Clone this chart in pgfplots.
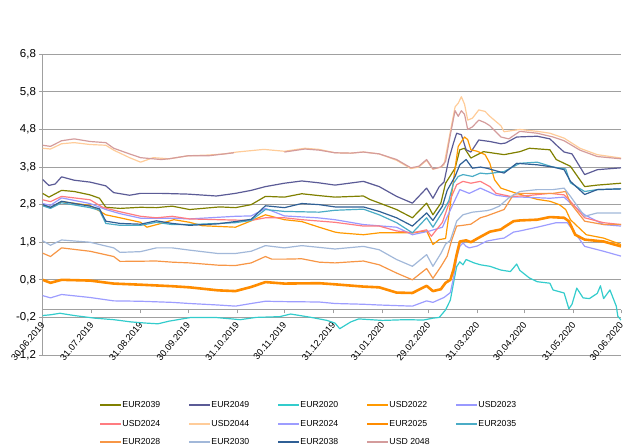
\documentclass[border=0pt]{standalone}
\usepackage{pgfplots}
\pgfplotsset{compat=1.18}
\usepackage{fontspec}
\setmainfont{Liberation Sans}
\definecolor{cEa}{HTML}{808000}
\definecolor{cEb}{HTML}{5B5B96}
\definecolor{cEc}{HTML}{33CCCC}
\definecolor{cUa}{HTML}{FF9900}
\definecolor{cUb}{HTML}{9999FF}
\definecolor{cUc}{HTML}{FF7C80}
\definecolor{cUd}{HTML}{FFCC99}
\definecolor{cEd}{HTML}{9D9DFF}
\definecolor{cEe}{HTML}{FF8C00}
\definecolor{cEf}{HTML}{4BACC6}
\definecolor{cEg}{HTML}{F79646}
\definecolor{cEh}{HTML}{A2B8D9}
\definecolor{cEi}{HTML}{2F5F95}
\definecolor{cUe}{HTML}{D49C9C}
\definecolor{gridc}{HTML}{A0A0A0}
\begin{document}
\begin{tikzpicture}
\useasboundingbox (0,0) rectangle (623pt,446pt);
\begin{axis}[
  at={(42.6pt,91pt)}, anchor=south west,
  scale only axis, width=578.4pt, height=300.7pt,
  xmin=0, xmax=366, ymin=-1.2, ymax=6.8,
  enlargelimits=false,
  axis x line*=middle, axis y line*=left,
  hide obscured x ticks=false,
  axis line style={gridc, line width=0.9pt},
  ytick={-1.2,-0.2,0.8,1.8,2.8,3.8,4.8,5.8,6.8},
  yticklabels={{-1,2},{-0,2},{0,8},{1,8},{2,8},{3,8},{4,8},{5,8},{6,8}},
  ymajorgrids, grid style={gridc, line width=0.9pt},
  xtick={0,31,62,92,123,153,184,215,244,275,305,336,366},
  xticklabels={30.06.2019,31.07.2019,31.08.2019,30.09.2019,31.10.2019,30.11.2019,31.12.2019,31.01.2020,29.02.2020,31.03.2020,30.04.2020,31.05.2020,30.06.2020},
  tick align=outside, major tick length=3.5pt,
  tick style={gridc, line width=0.8pt},
  yticklabel style={font=\fontsize{11.5}{12}\selectfont, anchor=east, inner sep=0pt, xshift=-3pt},
  xticklabel style={font=\fontsize{9.3}{10}\selectfont, yshift=-9pt, xshift=1pt, rotate=50, anchor=east, inner sep=1pt},
  unbounded coords=jump,
  every axis plot/.append style={line width=1.2pt, line join=round},
  legend columns=5,
  legend image code/.code={\draw[line width=2pt,#1] (0pt,0pt) -- (21pt,0pt);},
  legend style={draw=none, fill=none, inner sep=0pt, at={(0.098,-0.153)}, anchor=north west,
    font=\fontsize{8.7}{10}\selectfont, row sep=10.5pt,
    nodes={inner sep=0pt, text height=6.3pt, text depth=1.8pt}},
]
% EUR2039
\addplot[cEa] coordinates {(0,3.1)(4,3.0)(12,3.18)(20,3.15)(30,3.06)(36,2.97)(40,2.73)(49,2.7)(62,2.73)(72,2.72)(82,2.76)(93,2.67)(112,2.74)(122,2.72)(132,2.8)(141,3.02)(153,3.0)(164,3.09)(175,3.04)(185,3.0)(203,3.03)(207,2.94)(224,2.67)(234,2.45)(243,2.84)(247,2.53)(252,2.84)(255,3.37)(261,3.77)(264,4.26)(267,4.3)(271,4.04)(277,4.17)(279,4.21)(292,4.13)(302,4.21)(308,4.3)(321,4.26)(325,4.0)(334,3.82)(343,3.28)(351,3.32)(366,3.37)};
\addlegendentry{\makebox[66pt][l]{EUR2039}}
% EUR2049
\addplot[cEb] coordinates {(0,3.47)(4,3.31)(8,3.35)(12,3.54)(20,3.45)(30,3.4)(40,3.3)(45,3.12)(55,3.05)(62,3.1)(75,3.1)(92,3.08)(110,3.03)(122,3.1)(132,3.18)(141,3.28)(153,3.37)(164,3.43)(175,3.38)(185,3.32)(203,3.42)(213,3.28)(224,3.02)(234,2.84)(243,3.24)(247,2.97)(251,3.28)(254,3.4)(257,4.0)(260,4.44)(262,4.7)(265,4.66)(268,4.26)(271,4.2)(276,4.52)(283,4.48)(290,4.42)(293,4.44)(300,4.6)(313,4.62)(321,4.55)(326,4.35)(330,4.2)(335,4.15)(343,3.6)(351,3.73)(366,3.78)};
\addlegendentry{\makebox[66pt][l]{EUR2049}}
% EUR2020
\addplot[cEc] coordinates {(0,-0.15)(5,-0.13)(11,-0.09)(20,-0.15)(33,-0.22)(45,-0.26)(56,-0.32)(65,-0.35)(73,-0.37)(80,-0.3)(94,-0.2)(109,-0.2)(125,-0.26)(135,-0.2)(150,-0.18)(157,-0.11)(170,-0.2)(180,-0.28)(185,-0.35)(188,-0.5)(195,-0.32)(200,-0.24)(215,-0.28)(230,-0.26)(241,-0.27)(247,-0.22)(251,-0.2)(255,0.0)(258,0.26)(260,0.71)(262,1.15)(264,1.28)(266,1.2)(268,1.34)(273,1.25)(277,1.2)(283,1.16)(290,1.06)(296,1.02)(300,1.22)(302,1.05)(308,0.85)(313,0.75)(321,0.71)(323,0.53)(330,0.45)(333,0.03)(335,0.15)(338,0.58)(342,0.32)(346,0.3)(351,0.44)(353,0.64)(355,0.3)(359,0.53)(363,0.1)(364,-0.17)(366,-0.27)};
\addlegendentry{\makebox[66pt][l]{EUR2020}}
% USD2022
\addplot[cUa] coordinates {(0,2.8)(5,2.72)(12,2.88)(30,2.78)(40,2.53)(49,2.45)(62,2.33)(66,2.2)(75,2.3)(83,2.4)(93,2.33)(101,2.24)(122,2.2)(132,2.37)(141,2.53)(153,2.4)(164,2.35)(175,2.2)(185,2.07)(188,2.05)(203,2.0)(213,2.05)(224,2.05)(234,2.05)(243,2.1)(247,1.74)(251,1.87)(255,1.9)(258,2.8)(261,3.77)(263,4.35)(267,4.6)(269,4.53)(271,4.26)(275,4.22)(280,4.13)(283,3.9)(286,3.46)(290,3.24)(300,3.1)(313,2.94)(321,2.89)(327,2.8)(331,2.67)(334,2.4)(344,2.0)(355,1.91)(366,1.74)};
\addlegendentry{\makebox[66pt][l]{USD2022}}
% USD2023
\addplot[cUb] coordinates {(0,2.83)(5,2.78)(12,2.98)(30,2.83)(40,2.67)(49,2.56)(62,2.44)(82,2.44)(93,2.42)(122,2.49)(132,2.5)(141,2.7)(153,2.5)(174,2.45)(185,2.4)(203,2.27)(224,2.2)(234,2.0)(245,2.1)(253,2.2)(260,2.84)(264,3.2)(270,3.1)(277,3.24)(287,3.05)(296,3.0)(304,3.0)(321,2.97)(330,3.0)(334,2.84)(343,2.53)(355,2.27)(366,2.23)};
\addlegendentry{\makebox[66pt][l]{USD2023}}
% USD2024
\addplot[cUc] coordinates {(0,2.93)(5,2.88)(12,3.02)(30,2.93)(38,2.73)(48,2.62)(62,2.49)(72,2.45)(82,2.49)(93,2.42)(111,2.4)(132,2.38)(141,2.45)(153,2.45)(164,2.4)(185,2.33)(203,2.23)(213,2.23)(224,2.1)(234,2.05)(243,2.13)(246,1.96)(253,2.33)(258,2.94)(262,3.33)(266,3.42)(271,3.37)(277,3.42)(283,3.28)(287,3.1)(296,3.02)(304,3.03)(321,3.1)(330,3.06)(334,2.89)(343,2.45)(355,2.32)(366,2.27)};
\addlegendentry{\makebox[66pt][l]{USD2024}}
% USD2044
\addplot[cUd] coordinates {(0,4.3)(5,4.28)(12,4.42)(20,4.45)(30,4.4)(40,4.38)(45,4.25)(55,4.05)(62,3.93)(70,4.05)(80,4.02)(92,4.1)(105,4.12)(115,4.15)(123,4.2)(140,4.27)(153,4.22)(166,4.3)(175,4.27)(185,4.18)(195,4.17)(203,4.2)(213,4.15)(224,3.98)(233,3.76)(238,3.8)(243,3.98)(247,3.74)(252,3.8)(254,3.86)(256,4.3)(261,5.4)(263,5.5)(265,5.67)(267,5.47)(269,5.05)(272,5.1)(276,5.32)(280,5.28)(283,5.15)(290,4.9)(292,4.74)(302,4.8)(313,4.75)(321,4.7)(330,4.57)(340,4.3)(351,4.13)(366,4.04)};
\addlegendentry{\makebox[66pt][l]{USD2044}}
% EUR2024
\addplot[cEd] coordinates {(0,0.38)(5,0.32)(12,0.41)(30,0.33)(45,0.24)(62,0.23)(82,0.2)(93,0.17)(111,0.13)(122,0.1)(132,0.17)(141,0.23)(153,0.22)(175,0.21)(185,0.17)(203,0.15)(213,0.13)(234,0.1)(243,0.24)(247,0.2)(254,0.33)(258,0.46)(260,0.85)(262,1.38)(264,1.69)(266,1.78)(268,1.69)(270,1.65)(275,1.7)(281,1.83)(290,1.9)(292,1.91)(298,2.07)(302,2.1)(313,2.2)(325,2.32)(332,2.32)(336,2.1)(343,1.69)(355,1.56)(366,1.43)};
\addlegendentry{\makebox[66pt][l]{EUR2024}}
% EUR2025
\addplot[cEe, line width=2.6pt] coordinates {(0,0.8)(5,0.72)(12,0.8)(30,0.78)(45,0.7)(62,0.67)(82,0.63)(93,0.6)(111,0.52)(122,0.5)(132,0.61)(141,0.74)(153,0.7)(175,0.71)(185,0.68)(203,0.62)(213,0.6)(224,0.46)(234,0.45)(243,0.64)(247,0.5)(252,0.55)(255,0.72)(258,0.8)(260,1.07)(262,1.47)(264,1.82)(268,1.85)(271,1.8)(276,1.92)(283,2.08)(290,2.14)(292,2.2)(298,2.36)(302,2.38)(313,2.4)(321,2.47)(330,2.45)(333,2.36)(337,2.0)(343,1.87)(355,1.82)(366,1.69)};
\addlegendentry{\makebox[66pt][l]{EUR2025}}
% EUR2035
\addplot[cEf] coordinates {(0,2.77)(5,2.7)(12,2.85)(30,2.72)(36,2.65)(40,2.3)(49,2.25)(62,2.25)(72,2.33)(82,2.27)(93,2.27)(111,2.3)(122,2.32)(132,2.38)(141,2.67)(153,2.62)(175,2.6)(185,2.65)(203,2.68)(213,2.53)(224,2.32)(234,2.05)(243,2.45)(247,2.2)(253,2.6)(257,2.9)(260,3.37)(263,3.55)(266,3.6)(272,3.55)(277,3.64)(281,3.62)(292,3.68)(302,3.9)(313,3.93)(323,3.8)(331,3.75)(334,3.38)(343,3.15)(351,3.2)(366,3.22)};
\addlegendentry{\makebox[66pt][l]{EUR2035}}
% EUR2028
\addplot[cEg] coordinates {(0,1.51)(5,1.42)(12,1.65)(30,1.56)(45,1.42)(49,1.29)(72,1.3)(82,1.27)(93,1.25)(111,1.19)(122,1.18)(132,1.25)(141,1.42)(145,1.35)(153,1.35)(164,1.36)(175,1.27)(185,1.25)(203,1.3)(213,1.2)(224,0.98)(234,0.8)(243,1.1)(247,0.84)(252,1.15)(256,1.43)(259,1.87)(262,2.23)(266,2.25)(271,2.28)(277,2.45)(281,2.5)(292,2.67)(298,3.07)(302,3.1)(313,3.1)(323,3.1)(331,3.15)(334,2.84)(343,2.36)(355,2.27)(366,2.27)};
\addlegendentry{\makebox[66pt][l]{EUR2028}}
% EUR2030
\addplot[cEh] coordinates {(0,1.84)(5,1.72)(12,1.86)(30,1.8)(45,1.65)(49,1.53)(62,1.55)(72,1.65)(82,1.65)(93,1.59)(111,1.5)(122,1.5)(132,1.56)(141,1.71)(153,1.65)(164,1.71)(185,1.62)(203,1.69)(213,1.6)(224,1.34)(234,1.16)(243,1.47)(247,1.16)(252,1.5)(255,1.75)(258,1.85)(262,2.36)(266,2.53)(272,2.6)(281,2.64)(284,2.67)(289,2.76)(295,2.98)(302,3.15)(313,3.2)(323,3.2)(330,3.24)(334,3.02)(343,2.49)(351,2.58)(366,2.58)};
\addlegendentry{\makebox[66pt][l]{EUR2030}}
% EUR2038
\addplot[cEi] coordinates {(0,2.8)(5,2.73)(12,2.89)(30,2.76)(36,2.69)(40,2.36)(49,2.3)(62,2.28)(72,2.37)(82,2.3)(93,2.25)(111,2.29)(122,2.35)(132,2.41)(141,2.77)(153,2.72)(164,2.83)(175,2.8)(185,2.74)(203,2.74)(213,2.62)(224,2.45)(234,2.23)(243,2.58)(247,2.38)(253,2.76)(256,3.18)(261,3.55)(264,3.86)(268,4.0)(272,3.77)(277,3.8)(281,3.77)(292,3.64)(300,3.9)(313,3.86)(323,3.8)(330,3.73)(334,3.42)(343,3.07)(351,3.2)(366,3.22)};
\addlegendentry{\makebox[66pt][l]{EUR2038}}
% USD 2048
\addplot[cUe] coordinates {(0,4.38)(5,4.35)(12,4.5)(20,4.55)(30,4.48)(40,4.45)(45,4.3)(55,4.15)(62,4.05)(75,4.0)(80,4.02)(92,4.1)(105,4.1)(115,4.15)(121,4.18)(122,nan)(152,nan)(153,4.2)(166,4.28)(175,4.25)(185,4.18)(195,4.17)(203,4.2)(213,4.15)(224,4.0)(233,3.78)(238,3.82)(243,4.0)(247,3.75)(252,3.8)(255,3.95)(258,4.66)(261,5.3)(263,5.15)(265,5.3)(267,5.2)(269,4.8)(272,4.87)(276,5.05)(280,4.98)(283,4.9)(290,4.6)(295,4.55)(302,4.75)(313,4.7)(323,4.6)(330,4.5)(340,4.25)(351,4.08)(366,4.02)};
\addlegendentry{\makebox[66pt][l]{USD 2048}}
\node[anchor=base, font=\fontsize{11.5}{13}\selectfont] at (axis description cs:0.4243,1.119) {Randamente\ \ Euroobligațiuni};
\end{axis}
\end{tikzpicture}
\end{document}
